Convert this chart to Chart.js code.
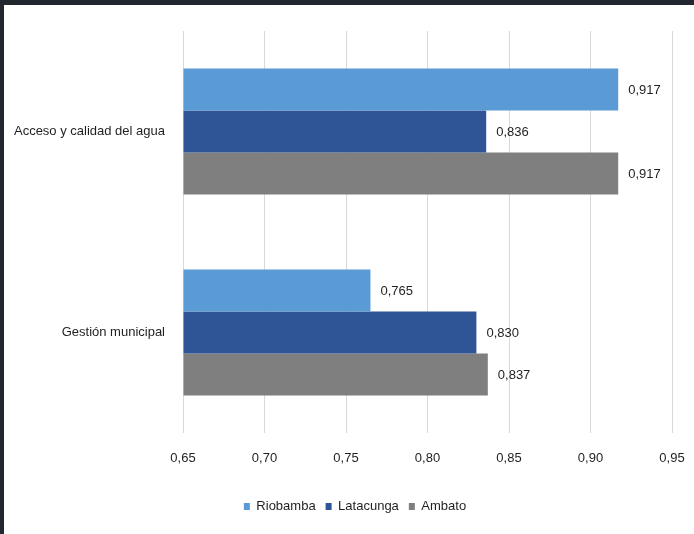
<!DOCTYPE html>
<html>
<head>
<meta charset="utf-8">
<script src="https://cdn.jsdelivr.net/npm/chart.js@4.4.1/dist/chart.umd.min.js"></script>
<style>
  html, body { margin: 0; padding: 0; background: #ffffff; }
  #wrap { position: relative; width: 694px; height: 534px; overflow: hidden; }
  #myChart { position: absolute; left: 0; top: 0; }
  .edgeTop { position: absolute; left: 0; top: 0; width: 694px; height: 5px; background: #22262e; }
  .edgeLeft { position: absolute; left: 0; top: 0; width: 4px; height: 534px; background: #22262e; }
</style>
</head>
<body>
<div id="wrap">
  <canvas id="myChart" width="694" height="534"></canvas>
  <div class="edgeTop"></div>
  <div class="edgeLeft"></div>
</div>
<script>
const FONT = "'Liberation Sans', Arial, sans-serif";
const FONT_SIZE = 13;
const TEXT_COLOR = "#1f1f1f";

let categories = ["Acceso y calidad del agua", "Gestión municipal"];
let riobamba = [0.917, 0.765];
let latacunga = [0.836, 0.83];
let ambato = [0.917, 0.837];
let seriesNames = ["Riobamba", "Latacunga", "Ambato"];
let seriesColors = ["#5b9bd5", "#2f5597", "#7f7f7f"];

function commaNum(v, digits) {
  return Number(v).toFixed(digits).replace(".", ",");
}

// value labels to the right of each bar
const barLabels = {
  id: "barLabels",
  afterDatasetsDraw(chart) {
    let ctx = chart.ctx;
    ctx.save();
    ctx.font = FONT_SIZE + "px " + FONT;
    ctx.fillStyle = TEXT_COLOR;
    ctx.textAlign = "left";
    ctx.textBaseline = "middle";
    chart.data.datasets.forEach((ds, i) => {
      chart.getDatasetMeta(i).data.forEach((bar, j) => {
        ctx.fillText(commaNum(ds.data[j], 3), bar.x + 10, bar.y + 1);
      });
    });
    ctx.restore();
  },
};

// legend sits a bit right of the canvas centre in the original
const legendShift = {
  id: "legendShift",
  afterLayout(chart) {
    chart.legend.left += 19;
    chart.legend.right += 19;
  },
};

let myChart = new Chart(document.getElementById("myChart").getContext("2d"), {
  type: "bar",
  data: {
    labels: categories,
    datasets: [
      { label: seriesNames[0], data: riobamba, backgroundColor: seriesColors[0] },
      { label: seriesNames[1], data: latacunga, backgroundColor: seriesColors[1] },
      { label: seriesNames[2], data: ambato, backgroundColor: seriesColors[2] },
    ],
  },
  options: {
    indexAxis: "y",
    responsive: false,
    animation: false,
    base: 0.65,
    datasets: {
      bar: { barPercentage: 1, categoryPercentage: 0.627 },
    },
    layout: { padding: { top: 31, right: 22, left: 0, bottom: 11 } },
    scales: {
      x: {
        min: 0.65,
        max: 0.95,
        grid: { color: "#d9d9d9", lineWidth: 1, drawTicks: false },
        border: { display: false },
        ticks: {
          stepSize: 0.05,
          padding: 18,
          color: TEXT_COLOR,
          font: { family: FONT, size: FONT_SIZE },
          callback: (v) => commaNum(v, 2),
        },
        afterFit: (scale) => {
          scale.height = 57;
          scale.paddingLeft = 0;
          scale.paddingRight = 0;
        },
      },
      y: {
        grid: { display: false },
        border: { display: false },
        ticks: {
          padding: 10,
          color: TEXT_COLOR,
          font: { family: FONT, size: FONT_SIZE },
        },
        afterFit: (scale) => {
          scale.width = 183;
        },
      },
    },
    plugins: {
      legend: {
        position: "bottom",
        labels: {
          boxWidth: 6,
          boxHeight: 7,
          padding: 10,
          color: TEXT_COLOR,
          font: { family: FONT, size: FONT_SIZE },
        },
      },
      tooltip: { enabled: false },
    },
  },
  plugins: [barLabels, legendShift],
});
</script>
</body>
</html>
